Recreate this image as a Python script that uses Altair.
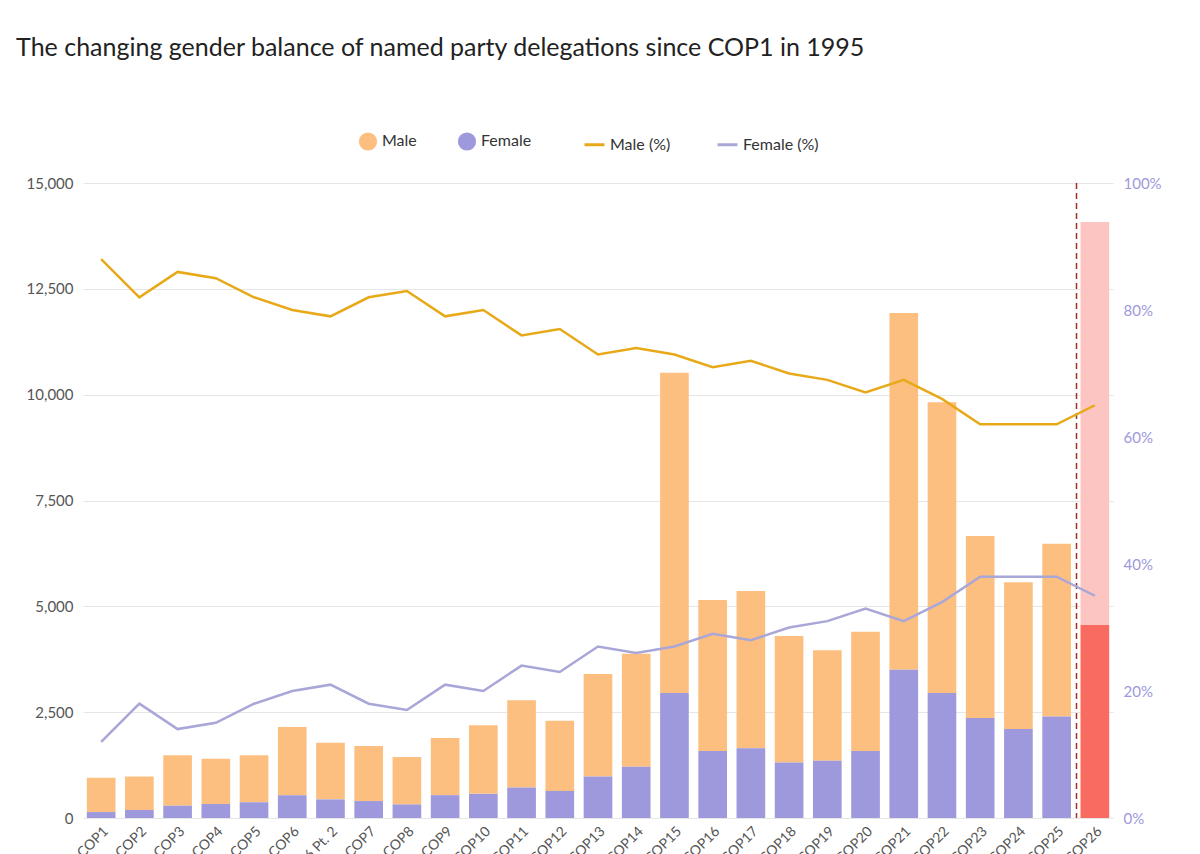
import altair as alt
import pandas as pd

cops = ["COP1", "COP2", "COP3", "COP4", "COP5", "COP6", "COP6 Pt. 2", "COP7", "COP8",
        "COP9", "COP10", "COP11", "COP12", "COP13", "COP14", "COP15", "COP16", "COP17",
        "COP18", "COP19", "COP20", "COP21", "COP22", "COP23", "COP24", "COP25", "COP26"]
total = [950, 980, 1480, 1400, 1480, 2150, 1780, 1700, 1440, 1890, 2190, 2780, 2300,
         3400, 3880, 10520, 5150, 5360, 4300, 3960, 4400, 11930, 9820, 6660, 5570, 6480, 14080]
female = [140, 190, 290, 330, 370, 540, 440, 400, 320, 540, 570, 720, 640,
          980, 1210, 2950, 1580, 1650, 1310, 1350, 1580, 3500, 2950, 2360, 2100, 2400, 4560]
male_pct = [88, 82, 86, 85, 82, 80, 79, 82, 83, 79, 80, 76, 77, 73, 74, 73, 71, 72,
            70, 69, 67, 69, 66, 62, 62, 62, 65]
female_pct = [12, 18, 14, 15, 18, 20, 21, 18, 17, 21, 20, 24, 23, 27, 26, 27, 29, 28,
              30, 31, 33, 31, 34, 38, 38, 38, 35]

FONT = "Lato"
bars = []
for c, t, f in zip(cops, total, female):
    bars.append({"cop": c, "series": "Male", "lo": f, "hi": t})
    bars.append({"cop": c, "series": "Female", "lo": 0, "hi": f})
bar_df = pd.DataFrame(bars)
lines = []
for c, m, f in zip(cops, male_pct, female_pct):
    lines.append({"cop": c, "series": "Male (%)", "pct": m / 100})
    lines.append({"cop": c, "series": "Female (%)", "pct": f / 100})
line_df = pd.DataFrame(lines)

x = alt.X("cop:N", sort=cops, title=None,
          scale=alt.Scale(paddingInner=0.25, paddingOuter=0.1),
          axis=alt.Axis(labelAngle=-45, labelFontSize=14, labelColor="#555",
                        domain=False, ticks=False, labelPadding=6))

left_axis = alt.Axis(values=[0, 2500, 5000, 7500, 10000, 12500, 15000],
                     labelExpr="format(datum.value, ',')",
                     labelFontSize=15, labelColor="#555", domain=False, ticks=False,
                     gridColor="#e6e6e6", labelPadding=10)
y_left = alt.Y("hi:Q", title=None, scale=alt.Scale(domain=[0, 15000], nice=False), axis=left_axis)

main = alt.Chart(bar_df).transform_filter(alt.datum.cop != "COP26").mark_bar().encode(
    x=x,
    y=y_left,
    y2="lo:Q",
    fill=alt.Fill("series:N", title=None,
                  scale=alt.Scale(domain=["Male", "Female"], range=["#fdbf80", "#9d99dc"]),
                  legend=alt.Legend(orient="none", legendX=275, legendY=-52,
                                    symbolType="circle", symbolSize=330, columnPadding=40,
                                    labelFontSize=16, labelColor="#333", symbolOpacity=1)),
)
last = alt.Chart(bar_df).transform_filter(alt.datum.cop == "COP26").mark_bar().encode(
    x=x, y=y_left, y2="lo:Q",
    fill=alt.condition(alt.datum.series == "Male", alt.value("#fcc5c2"), alt.value("#f96a60")),
)
rule = alt.Chart(pd.DataFrame({"cop": ["COP26"]})).mark_rule(
    color="#a0301f", strokeDash=[6, 4], strokeWidth=1.5, xOffset=-4
).encode(x=alt.X("cop:N", sort=cops, bandPosition=0))

bar_layer = alt.layer(main, last, rule)

line_layer = alt.Chart(line_df).mark_line(strokeWidth=2.5).encode(
    x=x,
    y=alt.Y("pct:Q", title=None, scale=alt.Scale(domain=[0, 1], nice=False),
            axis=alt.Axis(orient="right", format="%", values=[0, 0.2, 0.4, 0.6, 0.8, 1],
                          labelFontSize=15, labelColor="#9d99dc", domain=False,
                          ticks=False, grid=False, labelPadding=10)),
    stroke=alt.Stroke("series:N", title=None,
                      scale=alt.Scale(domain=["Male (%)", "Female (%)"],
                                      range=["#e8a919", "#a9a6d8"]),
                      legend=alt.Legend(orient="none", legendX=500, legendY=-50,
                                        symbolType="stroke", symbolStrokeWidth=3,
                                        symbolSize=400, columnPadding=40,
                                        labelFontSize=16, labelColor="#333")),
    detail="series:N",
)

chart = alt.layer(bar_layer, line_layer).resolve_scale(y="independent").properties(
    width=1030, height=635,
    padding={"top": 28, "left": 8, "right": 5, "bottom": 5},
    title=alt.TitleParams("The changing gender balance of named party delegations since COP1 in 1995",
                          anchor="start", fontSize=25, fontWeight="normal", color="#222",
                          offset=70, dx=-10),
).configure(font=FONT).configure_view(stroke=None).configure_legend(
    direction="horizontal", padding=0)

chart.save("out.html", embed_options={"renderer": "svg", "actions": False})
